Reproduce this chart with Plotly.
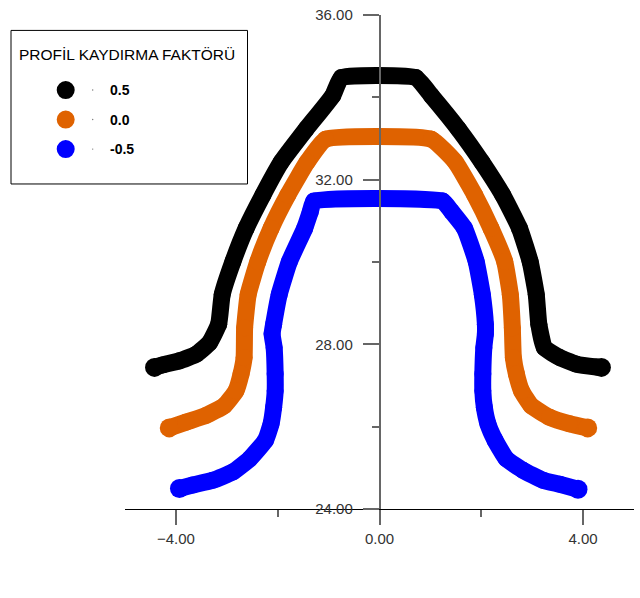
import plotly.graph_objects as go

# profile shift factors and the tooth outlines
shift_labels = ["0.5", "0.0", "-0.5"]

x_pos = [-4.42, -4.26, -3.93, -3.60, -3.34, -3.16, -3.09, -2.88, -2.62, -2.29, -1.93, -1.44, -0.92, -0.75,
         0.71, 1.02, 1.55, 2.01, 2.42, 2.75, 2.96, 3.08, 3.13, 3.24, 3.54, 3.86, 4.26, 4.36]
y_pos = [27.44, 27.50, 27.60, 27.76, 28.04, 28.49, 29.21, 30.01, 30.82, 31.63, 32.43, 33.23, 34.04, 34.48,
         34.48, 34.04, 33.23, 32.43, 31.63, 30.82, 30.01, 29.21, 28.49, 27.92, 27.68, 27.52, 27.45, 27.44]

x_zero = [-4.13, -3.80, -3.41, -3.05, -2.82, -2.72, -2.66, -2.65, -2.58, -2.39, -2.13, -1.80, -1.42, -1.06,
          1.02, 1.49, 1.87, 2.19, 2.46, 2.57, 2.61, 2.63, 2.69, 2.79, 2.98, 3.34, 3.73, 4.09]
y_zero = [25.97, 26.11, 26.27, 26.51, 26.87, 27.28, 27.68, 28.40, 29.21, 30.01, 30.82, 31.63, 32.43, 32.98,
          32.98, 32.43, 31.63, 30.82, 30.01, 29.21, 28.40, 27.68, 27.28, 26.87, 26.51, 26.23, 26.07, 25.97]

x_neg = [-3.93, -3.67, -3.27, -2.88, -2.55, -2.24, -2.13, -2.08, -2.05, -2.05, -2.07, -2.11, -2.08, -1.97,
         -1.77, -1.47, -1.36, -1.29, 1.24, 1.42, 1.67, 1.90, 2.02, 2.08, 2.08, 2.05, 2.03, 2.03, 2.06, 2.13,
         2.27, 2.49, 2.82, 3.21, 3.54, 3.90]
y_neg = [24.50, 24.58, 24.70, 24.90, 25.22, 25.67, 26.07, 26.47, 26.87, 27.28, 27.92, 28.25, 28.49, 29.21,
         30.01, 30.82, 31.22, 31.48, 31.48, 31.22, 30.82, 30.01, 29.21, 28.49, 28.25, 27.92, 27.28, 26.87,
         26.47, 26.07, 25.67, 25.22, 24.94, 24.70, 24.60, 24.48]

series = [(x_pos, y_pos), (x_zero, y_zero), (x_neg, y_neg)]
colors = ["#000000", "#DF6200", "#0000FF"]

W, H = 640, 598
ML, MT, PW, PH = 125, 12, 509, 497
MR, MB = W - ML - PW, H - MT - PH


def px(x):
  return (x - ML) / PW


def py(y):
  return (MT + PH - y) / PH


fig = go.Figure()
for (xs, ys), name, c in zip(series, shift_labels, colors):
  sizes = [17] * len(xs)
  sizes[0] = sizes[-1] = 19
  fig.add_trace(go.Scatter(x=xs, y=ys, mode="lines+markers", name=name,
                           line=dict(color=c, width=17, shape="spline", smoothing=0.4),
                           marker=dict(color=c, size=sizes, opacity=1, line=dict(width=0)),
                           showlegend=False))

tick_font = dict(family="Liberation Sans, Arial", size=15, color="#333333")

# hand drawn legend box
shapes = [dict(type="rect", xref="paper", yref="paper", x0=px(11), x1=px(247.5), y0=py(27.5), y1=py(182),
               line=dict(color="black", width=1), fillcolor="white", layer="above")]
annotations = [dict(text="PROFİL KAYDIRMA FAKTÖRÜ", xref="paper", yref="paper", x=px(17), y=py(52),
                    xanchor="left", yanchor="middle", showarrow=False,
                    font=dict(family="Liberation Sans, Arial", size=15.5, color="#000000"))]
for i, (name, c) in enumerate(zip(shift_labels, colors)):
  yc = 87.5 + i * 29.7
  shapes.append(dict(type="circle", xref="paper", yref="paper", xsizemode="pixel", ysizemode="pixel",
                     xanchor=px(65.7), yanchor=py(yc), x0=-9, x1=9, y0=-9, y1=9,
                     fillcolor=c, line=dict(width=0), layer="above"))
  shapes.append(dict(type="circle", xref="paper", yref="paper", xsizemode="pixel", ysizemode="pixel",
                     xanchor=px(92.7), yanchor=py(yc), x0=-0.7, x1=0.7, y0=-0.7, y1=0.7,
                     fillcolor="#777777", line=dict(width=0), layer="above"))
  annotations.append(dict(text="<b>%s</b>" % name, xref="paper", yref="paper", x=px(107.5), y=py(yc),
                          xanchor="left", yanchor="middle", showarrow=False,
                          font=dict(family="Liberation Sans, Arial", size=14, color="#000000")))

fig.update_layout(
  width=W, height=H, margin=dict(l=ML, r=MR, t=MT, b=MB),
  paper_bgcolor="white", plot_bgcolor="white",
  shapes=shapes, annotations=annotations,
  xaxis=dict(range=[-5, 5], showgrid=False, zeroline=False, showline=True, linecolor="black", linewidth=1,
             ticks="outside", tickmode="linear", tick0=0, dtick=4, ticklen=15, tickwidth=2,
             tickcolor="#666666", tickformat=".2f", tickfont=tick_font, ticklabelstandoff=1,
             minor=dict(tick0=0, dtick=2, ticks="outside", ticklen=7, tickwidth=2, tickcolor="#666666",
                        showgrid=False)),
  yaxis=dict(range=[24, 36], anchor="free", position=0.5, showgrid=False, zeroline=False, showline=True,
             linecolor="#666666", linewidth=1.5, ticks="outside", tickmode="linear", tick0=0, dtick=4,
             ticklen=16, tickwidth=1.5, tickcolor="#666666", tickformat=".2f", tickfont=tick_font,
             ticklabelstandoff=7,
             minor=dict(tick0=0, dtick=2, ticks="outside", ticklen=7, tickwidth=1.5, tickcolor="#666666",
                        showgrid=False)),
)

# drop the default page margin so the chart sits at the window corner
fig.write_html("out.html", config={"displayModeBar": False},
               post_script="document.body.style.margin='0px';")
